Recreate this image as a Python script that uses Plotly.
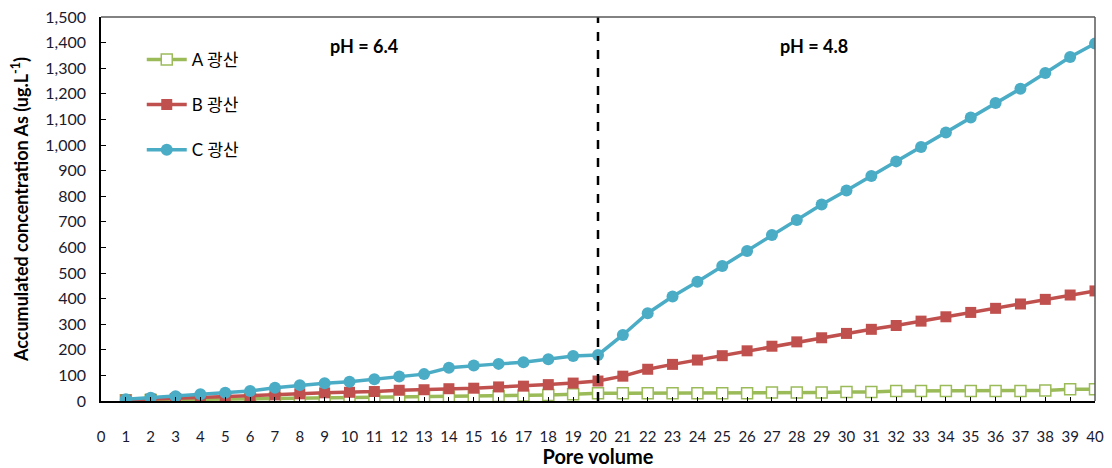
import plotly.graph_objects as go

pore_volume = list(range(1, 41))

mine_a = [3, 4, 5, 6, 7, 8, 10, 10, 12, 13, 14, 15, 16, 17, 19, 20, 21, 23, 26, 30,
          30, 30, 30, 30, 30, 30, 33, 33, 33, 35, 35, 39, 39, 39, 39, 39, 39, 41, 46, 46]
mine_b = [4, 7, 10, 13, 16, 20, 24, 28, 32, 34, 37, 42, 44, 48, 50, 55, 58, 64, 70, 78,
          97, 124, 143, 160, 177, 196, 214, 231, 247, 264, 280, 295, 312, 329, 346, 362, 379, 397, 414, 430]
mine_c = [7, 13, 19, 26, 32, 39, 52, 62, 69, 75, 85, 96, 105, 130, 139, 145, 151, 163, 176, 180,
          258, 343, 408, 466, 527, 586, 648, 707, 768, 822, 879, 936, 992, 1049, 1107, 1164, 1220, 1281, 1344, 1396]

series_names = ["A 광산", "B 광산", "C 광산"]
x_ticks = list(range(0, 41))
y_ticks = list(range(0, 1501, 100))
ph_change_pv = 20
ph_labels = ["pH = 6.4", "pH = 4.8"]
ph_label_x = [10.6, 28.7]
ph_label_y = 1385

FONT = "Lato, 'Noto Sans CJK KR', sans-serif"

fig = go.Figure()
fig.add_trace(go.Scatter(
    x=pore_volume, y=mine_a, name=series_names[0], mode="lines+markers",
    line=dict(color="#9BBB59", width=3.5),
    marker=dict(symbol="square", size=11, color="white", line=dict(color="#9BBB59", width=1.5)),
    legendgroup="a"))
fig.add_trace(go.Scatter(
    x=pore_volume, y=mine_b, name=series_names[1], mode="lines+markers",
    line=dict(color="#C0504D", width=3.5),
    marker=dict(symbol="square", size=11, color="#C0504D"),
    legendgroup="b"))
fig.add_trace(go.Scatter(
    x=pore_volume, y=mine_c, name=series_names[2], mode="lines+markers",
    line=dict(color="#4BACC6", width=3.5),
    marker=dict(symbol="circle", size=12, color="#4BACC6"),
    legendgroup="c"))

# dashed reference line at pH change
fig.add_shape(type="line", xref="x", yref="paper", x0=ph_change_pv, x1=ph_change_pv, y0=0, y1=1,
              line=dict(color="black", width=2.5, dash="dash"))
# gray top/right frame
fig.add_shape(type="line", xref="paper", yref="paper", x0=0, x1=1, y0=1, y1=1,
              line=dict(color="#595959", width=1.5))
fig.add_shape(type="line", xref="paper", yref="paper", x0=1, x1=1, y0=0, y1=1,
              line=dict(color="#595959", width=1.5))

for txt, xv in zip(ph_labels, ph_label_x):
    fig.add_annotation(x=xv, y=ph_label_y, xref="x", yref="y", text="<b>" + txt + "</b>",
                       showarrow=False, font=dict(family=FONT, size=18, color="black"))

# page body has an 8px default margin, so the figure is sized to fill the rest of the window
fig.update_layout(
    width=1104, height=460,
    margin=dict(l=93, r=17, t=9, b=67),
    paper_bgcolor="white", plot_bgcolor="white",
    font=dict(family=FONT, color="black"),
    showlegend=True,
    legend=dict(x=0.041, y=0.935, xanchor="left", yanchor="top",
                bgcolor="rgba(0,0,0,0)", font=dict(family=FONT, size=17, color="black"),
                tracegroupgap=20, itemwidth=40),
)
fig.update_xaxes(
    range=[0, 40], tickmode="array", tickvals=x_ticks, ticktext=[str(v) for v in x_ticks],
    showgrid=False, zeroline=False, showline=True, linecolor="black", linewidth=1.5,
    ticks="inside", ticklen=4, tickcolor="black", automargin=False, ticklabeloverflow="allow",
    tickfont=dict(family=FONT, size=15, color="#1a1a2e"), ticklabelstandoff=21,
    title=dict(text="<b>Pore volume</b>", font=dict(family=FONT, size=20, color="black"), standoff=9),
)
fig.update_yaxes(
    range=[0, 1500], tickmode="array", tickvals=y_ticks, ticktext=[f"{v:,}" for v in y_ticks],
    showgrid=False, zeroline=False, showline=True, linecolor="black", linewidth=1.5,
    ticks="inside", ticklen=5, tickcolor="black", automargin=False, ticklabeloverflow="allow",
    tickfont=dict(family=FONT, size=16, color="#1a1a2e"), ticklabelstandoff=10,
    title=dict(text="<b>Accumulated concentration As (ug.L<sup>-1</sup>)</b>",
               font=dict(family=FONT, size=18, color="black"), standoff=13),
)

fig.write_html("out.html")
